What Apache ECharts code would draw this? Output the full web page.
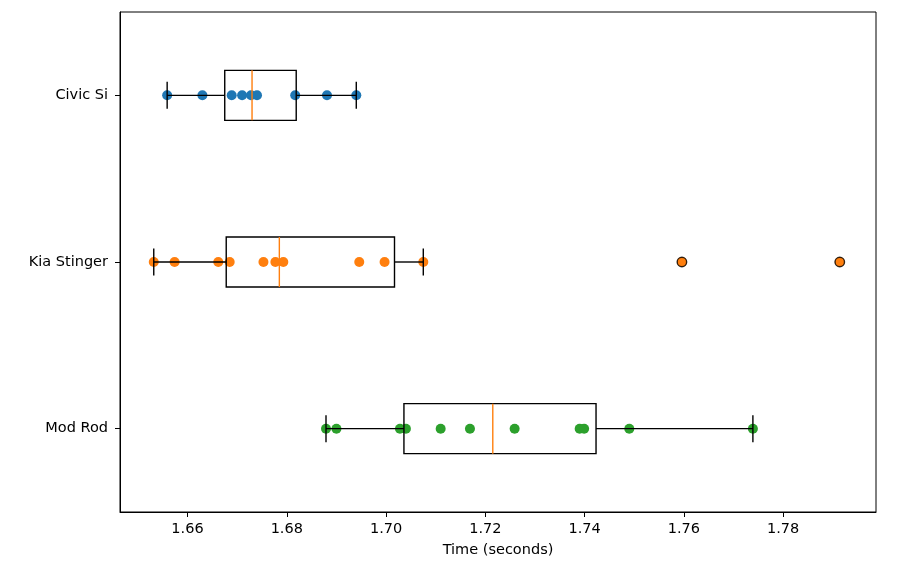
<!DOCTYPE html>
<html>
<head>
<meta charset="utf-8">
<script src="https://cdn.jsdelivr.net/npm/echarts@6/dist/echarts.min.js"></script>
<style>
  html, body { margin: 0; padding: 0; background: #fff; }
  #main { width: 898px; height: 575px; }
</style>
</head>
<body>
<div id="main"></div>
<script type="text/javascript">
    // categories from bottom to top (category axis starts at the bottom)
    var categories = ['Mod Rod', 'Kia Stinger', 'Civic Si'];

    // lap times
    var civicTimes = [1.6559, 1.6630, 1.6689, 1.6710, 1.6728, 1.6740, 1.6817, 1.6881, 1.6940];
    var kiaTimes = [1.6532, 1.6574, 1.6662, 1.6685, 1.6753, 1.6777, 1.6793, 1.6946, 1.6997, 1.7075, 1.7596, 1.7914];
    var modTimes = [1.6879, 1.6900, 1.7028, 1.7040, 1.7110, 1.7169, 1.7259, 1.7390, 1.7399, 1.7490, 1.7739];

    // box stats: [whisker low, q1, median, q3, whisker high]
    var civicBox = [1.6559, 1.6675, 1.6730, 1.6819, 1.6940];
    var kiaBox = [1.6532, 1.6678, 1.6785, 1.7017, 1.7075];
    var modBox = [1.6879, 1.7036, 1.7215, 1.7423, 1.7739];
    var kiaOutliers = [1.7596, 1.7914];

    var xTicks = [1.66, 1.68, 1.70, 1.72, 1.74, 1.76, 1.78];

    var colors = ['#2ca02c', '#ff7f0e', '#1f77b4'];

    var myChart = echarts.init(document.getElementById('main'));

    function toPoints(times, cat) {
        return times.map(function (t) { return [t, cat]; });
    }

    var boxData = [
        [0].concat(modBox),
        [1].concat(kiaBox),
        [2].concat(civicBox)
    ];

    function renderBox(params, api) {
        var cat = api.value(0);
        var lo = api.coord([api.value(1), cat]);
        var q1 = api.coord([api.value(2), cat]);
        var md = api.coord([api.value(3), cat]);
        var q3 = api.coord([api.value(4), cat]);
        var hi = api.coord([api.value(5), cat]);
        var y = lo[1];
        var halfBox = 25, halfCap = 13.5;
        var black = { stroke: '#000', lineWidth: 1.4 };
        return {
            type: 'group',
            children: [
                { type: 'line', shape: { x1: lo[0], y1: y, x2: q1[0], y2: y }, style: black },
                { type: 'line', shape: { x1: q3[0], y1: y, x2: hi[0], y2: y }, style: black },
                { type: 'line', shape: { x1: lo[0], y1: y - halfCap, x2: lo[0], y2: y + halfCap }, style: black },
                { type: 'line', shape: { x1: hi[0], y1: y - halfCap, x2: hi[0], y2: y + halfCap }, style: black },
                { type: 'rect', shape: { x: q1[0], y: y - halfBox, width: q3[0] - q1[0], height: halfBox * 2 },
                  style: { fill: 'none', stroke: '#000', lineWidth: 1.4 } },
                { type: 'line', shape: { x1: md[0], y1: y - halfBox, x2: md[0], y2: y + halfBox },
                  style: { stroke: '#ff7f0e', lineWidth: 1.4 } }
            ]
        };
    }

    var option = {
        animation: false,
        backgroundColor: '#fff',
        grid: {
            left: 120, right: 22, top: 12, bottom: 63,
            show: true, borderColor: '#000', borderWidth: 1
        },
        xAxis: {
            type: 'value',
            min: 1.6464,
            max: 1.7987,
            name: 'Time (seconds)',
            nameLocation: 'middle',
            nameGap: 31,
            nameTextStyle: { fontFamily: 'DejaVu Sans', fontSize: 14.5, color: '#000' },
            axisLine: { show: true, lineStyle: { color: '#000' } },
            axisTick: { show: true, length: 5, inside: false, customValues: xTicks, lineStyle: { color: '#000' } },
            axisLabel: {
                customValues: xTicks,
                margin: 10,
                fontFamily: 'DejaVu Sans',
                fontSize: 14.5,
                color: '#000',
                formatter: function (v) { return v.toFixed(2); }
            },
            splitLine: { show: false }
        },
        yAxis: {
            type: 'category',
            data: categories,
            axisLine: { show: true, lineStyle: { color: '#000' } },
            axisTick: { show: true, alignWithLabel: true, length: 5, lineStyle: { color: '#000' } },
            axisLabel: { margin: 12, fontFamily: 'DejaVu Sans', fontSize: 14.5, color: '#000' },
            splitLine: { show: false }
        },
        series: [
            {
                type: 'scatter', symbolSize: 10, z: 2,
                itemStyle: { color: colors[0], opacity: 1 },
                data: toPoints(modTimes, 0)
            },
            {
                type: 'scatter', symbolSize: 10, z: 2,
                itemStyle: { color: colors[1], opacity: 1 },
                data: toPoints(kiaTimes, 1)
            },
            {
                type: 'scatter', symbolSize: 10, z: 2,
                itemStyle: { color: colors[2], opacity: 1 },
                data: toPoints(civicTimes, 2)
            },
            {
                type: 'custom', z: 3,
                renderItem: renderBox,
                encode: { x: [1, 2, 3, 4, 5], y: 0 },
                data: boxData
            },
            {
                // fliers: open rings drawn over the points
                type: 'scatter', symbolSize: 9.5, z: 4,
                itemStyle: { color: 'rgba(0,0,0,0)', borderColor: '#000', borderWidth: 1.4 },
                data: toPoints(kiaOutliers, 1)
            }
        ]
    };

    myChart.setOption(option);
</script>
</body>
</html>
